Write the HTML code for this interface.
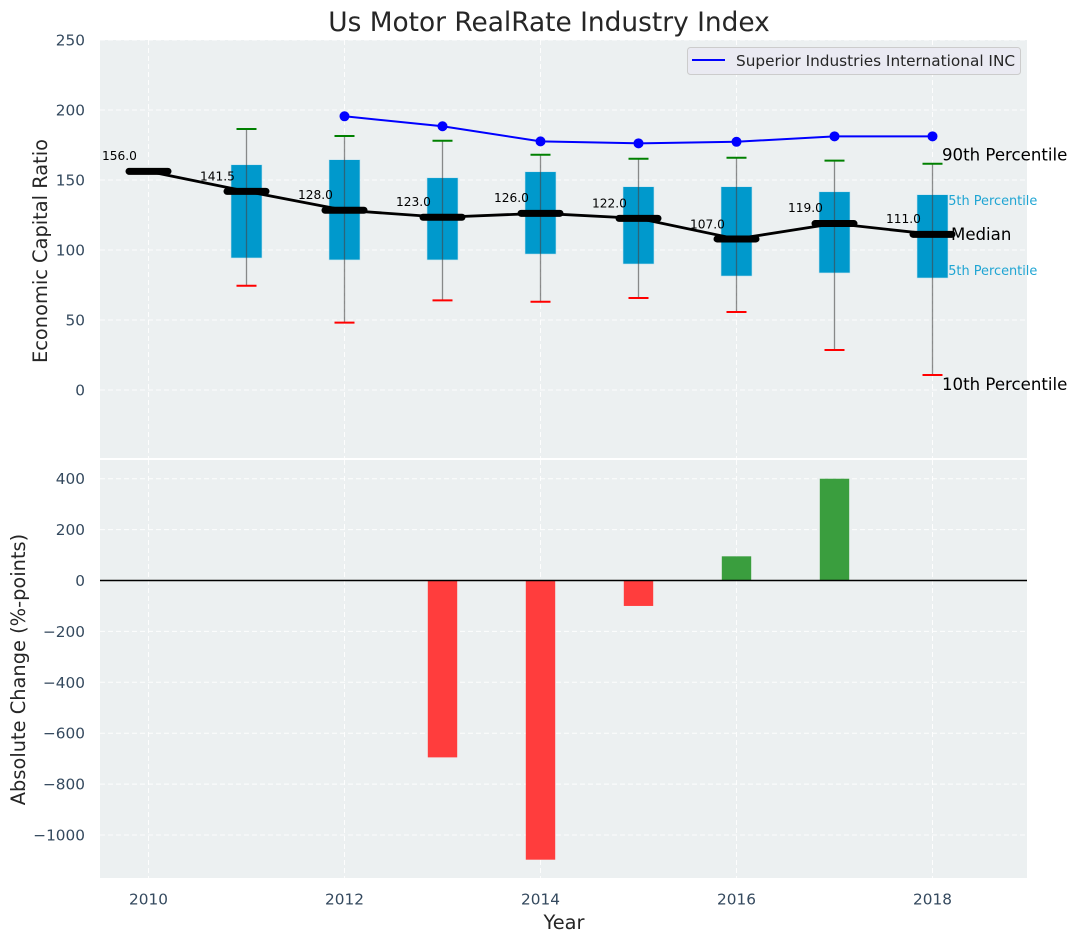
<!DOCTYPE html>
<html>
<head>
<meta charset="utf-8">
<title>Us Motor RealRate Industry Index</title>
<style>
html,body{margin:0;padding:0;background:#fff;width:1077px;height:942px;overflow:hidden}
svg{display:block}
text{font-family:"DejaVu Sans","Liberation Sans",sans-serif}
</style>
</head>
<body>
<svg id="chart" xmlns="http://www.w3.org/2000/svg" width="1077" height="942" viewBox="0 0 1077 942">
  <rect x="100" y="40" width="927" height="418" fill="#ecf0f1"/>
  <rect x="100" y="460" width="927" height="418" fill="#ecf0f1"/>
  <g id="grid"></g>
  <g id="ticks"></g>
  <g id="blue-labels"></g>
  <g id="bars"></g>
  <g id="boxes"></g>
  <g id="lines"></g>
  <g id="labels"></g>
  <line x1="100" x2="1027" y1="580.5" y2="580.5" stroke="#000" stroke-width="1.4"/>
  <text x="549" y="31" text-anchor="middle" font-size="26.4" fill="#262626">Us Motor RealRate Industry Index</text>
  <text transform="translate(47,251) rotate(-90)" text-anchor="middle" font-size="19.4" fill="#262626">Economic Capital Ratio</text>
  <text transform="translate(25,669.5) rotate(-90)" text-anchor="middle" font-size="19.4" fill="#262626">Absolute Change (%-points)</text>
  <text x="564" y="929" text-anchor="middle" font-size="19.4" fill="#262626">Year</text>
  <g>
    <rect x="687.5" y="47.5" width="333" height="27" rx="3" fill="#eaeaf2" stroke="#cccccc" stroke-width="1"/>
    <line x1="692" x2="725" y1="60" y2="60" stroke="#0000ff" stroke-width="2"/>
    <text x="736" y="66" font-size="15.3" fill="#262626">Superior Industries International INC</text>
  </g>
</svg>
<script>
const years = [2010, 2011, 2012, 2013, 2014, 2015, 2016, 2017, 2018];
const medians = [156.2, 141.9, 128.4, 123.4, 126.2, 122.6, 107.9, 118.9, 111.2];
const medianLabels = [156, 141.5, 128, 123, 126, 122, 107, 119, 111];
const boxYears = [2011, 2012, 2013, 2014, 2015, 2016, 2017, 2018];
const p90 = [186.4, 181.4, 178, 168, 165.2, 165.9, 163.8, 161.6];
const p75 = [160.9, 164.5, 151.6, 155.9, 145.2, 145.2, 141.6, 139.5];
const p25 = [94.3, 92.9, 92.9, 97.1, 90, 81.4, 83.6, 80];
const p10 = [74.5, 48.1, 64, 63, 65.7, 55.7, 28.6, 10.7];
const superiorYears = [2012, 2013, 2014, 2015, 2016, 2017, 2018];
const superiorValues = [195.5, 188.4, 177.6, 176.2, 177.3, 181.2, 181.2];
const changeYears = [2013, 2014, 2015, 2016, 2017];
const changeValues = [-695, -1097, -100, 95, 400];
const xTickLabels = [2010, 2012, 2014, 2016, 2018];
const topYTicks = [0, 50, 100, 150, 200, 250];
const bottomYTicks = [-1000, -800, -600, -400, -200, 0, 200, 400];

const NS = 'http://www.w3.org/2000/svg';
function xScale(year) { return 148.5 + (year - 2010) * 98; }
function yTop(v) { return 390 - v * 1.4; }
function yBottom(v) { return 580.5 - v * 0.2545; }
function formatTick(v) { return String(v).replace('-', '\u2212'); }
function make(tag, parentId, attrs, content) {
  const el = document.createElementNS(NS, tag);
  for (const k in attrs) el.setAttribute(k, attrs[k]);
  if (content !== undefined) el.textContent = content;
  document.getElementById(parentId).appendChild(el);
  return el;
}
const gridStyle = { stroke: '#ffffff', 'stroke-width': 1, 'stroke-dasharray': '5 3', opacity: 0.9 };
const tickColor = '#34495e';

xTickLabels.forEach(function (t) {
  const x = xScale(t);
  let el = make('line', 'grid', Object.assign({ x1: x, x2: x, y1: 40, y2: 458 }, gridStyle));
  
  
  el = make('line', 'grid', Object.assign({ x1: x, x2: x, y1: 460, y2: 878 }, gridStyle));
  
  
  el = make('text', 'ticks', { x: x, y: 904.5, 'text-anchor': 'middle', 'font-size': 15.3, fill: tickColor }, String(t));
  
  
});

topYTicks.forEach(function (t) {
  const y = yTop(t);
  let el = make('line', 'grid', Object.assign({ x1: 100, x2: 1027, y1: y, y2: y }, gridStyle));
  
  
  el = make('text', 'ticks', { x: 85, y: y + 5.5, 'text-anchor': 'end', 'font-size': 15.3, fill: tickColor }, formatTick(t));
  
  
});

bottomYTicks.forEach(function (t) {
  const y = yBottom(t);
  let el = make('line', 'grid', Object.assign({ x1: 100, x2: 1027, y1: y, y2: y }, gridStyle));
  
  
  el = make('text', 'ticks', { x: 85, y: y + 5.5, 'text-anchor': 'end', 'font-size': 15.3, fill: tickColor }, formatTick(t));
  
  
});

/* labels that sit beneath the last box */
const lastIndex = boxYears.length - 1;
const lastX = xScale(boxYears[lastIndex]);
const label75 = make('text', 'blue-labels', { x: lastX + 7.5, y: yTop(p75[lastIndex]) + 10.5, 'font-size': 12.9, fill: '#1fa5d3' }, '75th Percentile');


const label25 = make('text', 'blue-labels', { x: lastX + 7.5, y: yTop(p25[lastIndex]) - 3, 'font-size': 12.9, fill: '#1fa5d3' }, '25th Percentile');



changeYears.forEach(function (yr, i) {
  const v = changeValues[i];
  const y0 = yBottom(0), y1 = yBottom(v);
  const bar = make('rect', 'bars', {
    x: xScale(yr) - 14.7, width: 29.4,
    y: Math.min(y0, y1), height: Math.abs(y1 - y0),
    fill: v < 0 ? '#ff3d3d' : '#3a9e3e'
  });
  
  
});

boxYears.forEach(function (yr, i) {
  const x = xScale(yr);
  const box = make('rect', 'boxes', {
    x: x - 15.5, width: 31, y: yTop(p75[i]), height: yTop(p25[i]) - yTop(p75[i]),
    fill: '#0099cc', stroke: '#c5e3ee', 'stroke-width': 0.6
  });
  
  
  const whisker = make('line', 'boxes', {
    x1: x, x2: x, y1: yTop(p90[i]), y2: yTop(p10[i]),
    stroke: '#444', 'stroke-opacity': 0.6, 'stroke-width': 1.3
  });
  
  
  const capTop = make('line', 'boxes', {
    x1: x - 10, x2: x + 10, y1: yTop(p90[i]), y2: yTop(p90[i]),
    stroke: '#008000', 'stroke-width': 2
  });
  
  
  const capBottom = make('line', 'boxes', {
    x1: x - 10, x2: x + 10, y1: yTop(p10[i]), y2: yTop(p10[i]),
    stroke: '#ff0000', 'stroke-width': 2
  });
  
  
});

const medianPath = make('polyline', 'lines', {
  points: years.map(function (yr, i) { return xScale(yr) + ',' + yTop(medians[i]); }).join(' '),
  fill: 'none', stroke: '#000', 'stroke-width': 2.8
});



years.forEach(function (yr, i) {
  const x = xScale(yr), y = yTop(medians[i]);
  const seg = make('line', 'lines', {
    x1: x - 19.5, x2: x + 19.5, y1: y, y2: y,
    stroke: '#000', 'stroke-width': 7, 'stroke-linecap': 'round'
  });
  
  
  const label = make('text', 'labels', {
    x: x - 46.5, y: yTop(medianLabels[i] + 11.4) + 4.4, 'font-size': 12.2, fill: '#000'
  }, medianLabels[i].toFixed(1));
  
  
});

const superiorPath = make('polyline', 'lines', {
  points: superiorYears.map(function (yr, i) { return xScale(yr) + ',' + yTop(superiorValues[i]); }).join(' '),
  fill: 'none', stroke: '#0000ff', 'stroke-width': 2
});



superiorYears.forEach(function (yr, i) {
  const point = make('circle', 'lines', { cx: xScale(yr), cy: yTop(superiorValues[i]), r: 5, fill: '#0000ff' });
  
  
});

const label90 = make('text', 'labels', { x: lastX + 9.5, y: yTop(p90[lastIndex]) - 3.5, 'font-size': 16.6, fill: '#000' }, '90th Percentile');


const label10 = make('text', 'labels', { x: lastX + 9.5, y: yTop(p10[lastIndex]) + 15, 'font-size': 16.6, fill: '#000' }, '10th Percentile');


const labelMedian = make('text', 'labels', { x: lastX + 18.5, y: yTop(medians[medians.length - 1]) + 5.5, 'font-size': 16.6, fill: '#000' }, 'Median');


</script>
</body>
</html>
